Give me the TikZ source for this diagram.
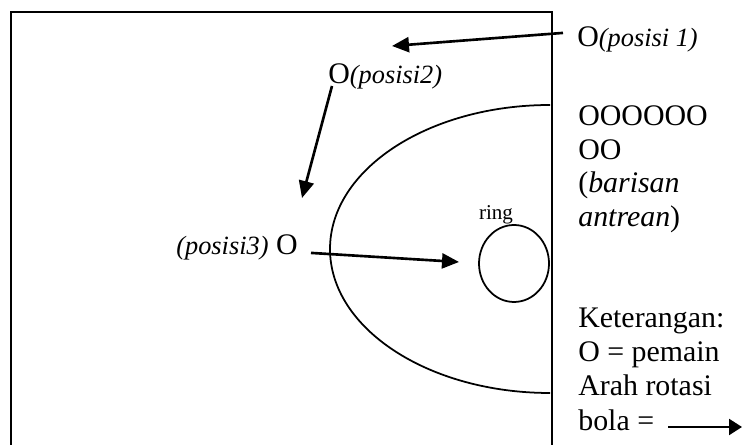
\documentclass[tikz,border=0pt]{standalone}
\usepackage{fontspec}
\setmainfont{Liberation Serif}
\usepackage{tikz}
\usetikzlibrary{positioning, arrows.meta, shapes.geometric}
\newcommand{\poslabel}[1]{{\fontsize{15}{18}\selectfont\itshape #1}}
\tikzset{
  teks/.style={
    font=\fontsize{17}{20}\selectfont, inner sep=0pt, anchor=base west
  },
  garis/.style={
    line width=1pt, black
  },
  ringshape/.style={
    ellipse, draw, line width=1pt,
    minimum width=1.4cm, minimum height=1.54cm, inner sep=0pt
  },
  panah/.style={
    -{Triangle[length=0.34cm, width=0.3cm]}, line width=1.5pt
  },
  panahkecil/.style={
    -{Triangle[length=0.26cm, width=0.32cm]}, line width=1.3pt
  },
}

\begin{document}
\begin{tikzpicture}
  \useasboundingbox (0,0) rectangle (14.84,8.9);

  % Lapangan
  \draw[line width=1.1pt] (0.22,0) -- (0.22,8.66) -- (11.04,8.66) -- (11.04,0);
  \draw[garis] (11.0,6.80) arc[start angle=90, end angle=270,
        x radius=4.4, y radius=2.88];
  \node[ringshape] (ring) at (10.28,3.63) {};
  \node[font=\fontsize{12}{14}\selectfont, inner sep=0pt,
        above=0pt of ring, xshift=-0.36cm] (ringtxt) {ring};

  % Posisi pemain
  \node[teks] (p1) at (11.54,7.96) {O\poslabel{(posisi 1)}};
  \node[teks] (p2) at (6.56,7.22) {O\poslabel{(posisi2)}};
  \node[teks, anchor=base east] (p3) at (5.96,3.80) {\poslabel{(posisi3)} O};

  % Arah gerak
  \coordinate (t1) at (7.84,7.98);
  \coordinate (t2) at (6.04,4.94);
  \coordinate (t3) at (9.18,3.66);
  \draw[panah] ([shift={(-0.28,0.14)}]p1.west) -- (t1);
  \draw[panah] ([shift={(0.08,-0.04)}]p2.base west) -- (t2);
  \draw[panah] ([shift={(0.26,-0.1)}]p3.east) -- (t3);

  % Barisan antrean
  \node[teks] (q1) at (11.56,6.38) {OOOOOO};
  \node[teks] (q2) at (11.56,5.70) {OO};
  \node[teks] (q3) at (11.56,5.04) {(\textit{barisan}};
  \node[teks] (q4) at (11.56,4.36) {\textit{antrean})};

  % Keterangan
  \node[teks] (k1) at (11.56,2.34) {Keterangan:};
  \node[teks] (k2) at (11.56,1.66) {O = pemain};
  \node[teks] (k3) at (11.56,0.98) {Arah rotasi};
  \node[teks] (k4) at (11.56,0.28) {bola =};
  \coordinate (rot) at (14.84,0.36);
  \draw[panahkecil] ([xshift=0.28cm]k4.east |- rot) -- (rot);
\end{tikzpicture}
\end{document}
